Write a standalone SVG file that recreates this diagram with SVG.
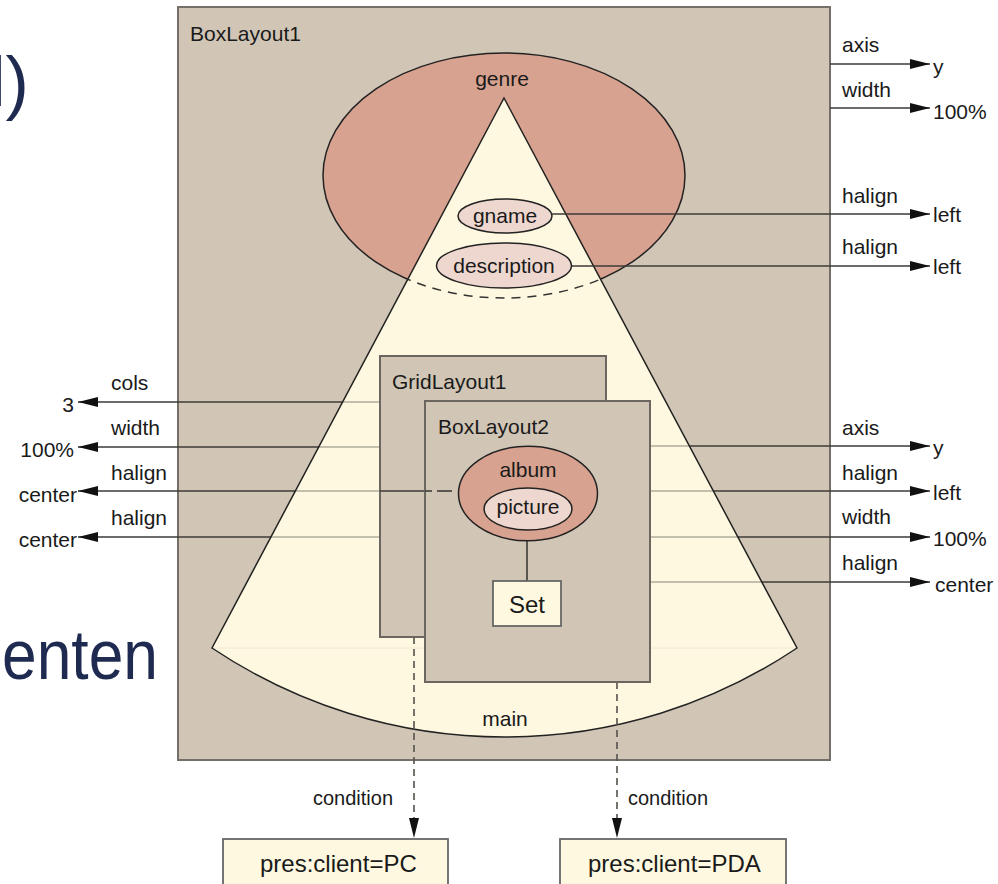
<svg xmlns="http://www.w3.org/2000/svg" width="998" height="884" viewBox="0 0 998 884">
  <defs>
    <style>
      text { font-family: "Liberation Sans", Arial, sans-serif; font-size: 21px; fill: #1a1a1a; }
      .mid { text-anchor: middle; }
      .end { text-anchor: end; }
      .slide { font-size: 70px; fill: #1f2a50; }
      .box { fill: #d1c6b6; stroke: #6b6660; stroke-width: 2; }
      .frame { fill: #d1c6b6; stroke: #747069; stroke-width: 2; }
      .salmon { fill: #d7a28f; stroke: #222; stroke-width: 1.5; }
      .pink { fill: #eed7cf; stroke: #222; stroke-width: 1.5; }
      .cream { fill: #fdf8df; stroke: #666; stroke-width: 1.8; }
      .link { fill: none; stroke: #3c3a37; stroke-width: 1.6; }
      .arrow { fill: none; stroke: #3c3a37; stroke-width: 1.6; marker-end: url(#tip); }
      .dash { fill: none; stroke: #55524d; stroke-width: 1.6; stroke-dasharray: 7 5; }
    </style>
    <marker id="tip" markerUnits="userSpaceOnUse" markerWidth="20" markerHeight="10" refX="20" refY="5" orient="auto">
      <path d="M0,0 L20,5 L0,10 Z" fill="#111"/>
    </marker>
    <clipPath id="coneClip">
      <path d="M504,98 L797,648 A525,525 0 0 1 212,648 Z"/>
    </clipPath>
  </defs>

  <!-- slide text fragments at the left edge -->
  <text class="slide" x="-10" y="106">l)</text>
  <text class="slide" x="2" y="679" textLength="156" lengthAdjust="spacingAndGlyphs">enten</text>

  <!-- outer layout -->
  <g id="boxlayout1">
    <rect class="frame" x="178" y="7" width="652" height="753"/>
    <text x="190" y="41">BoxLayout1</text>
  </g>

  <g id="genre">
    <ellipse class="salmon" cx="504" cy="175.5" rx="181" ry="122.5"/>
  </g>

  <!-- main cone -->
  <g id="main">
    <path d="M504,98 L797,648 A525,525 0 0 1 212,648 Z" fill="#fdf8df"/>
  </g>

  <!-- connectors -->
  <g id="connectors">
    <!-- BoxLayout1 properties -->
    <line class="arrow" x1="830" y1="64" x2="930" y2="64"/>
    <line class="arrow" x1="830" y1="108" x2="930" y2="108"/>
    <!-- GridLayout1 properties -->
    <line class="arrow" x1="380" y1="402" x2="78" y2="402"/>
    <line class="arrow" x1="380" y1="447" x2="78" y2="447"/>
    <line class="arrow" x1="380" y1="491" x2="78" y2="491"/>
    <line class="arrow" x1="380" y1="537" x2="78" y2="537"/>
    <!-- BoxLayout2 properties -->
    <line class="arrow" x1="650" y1="446" x2="930" y2="446"/>
    <line class="arrow" x1="597" y1="491" x2="930" y2="491"/>
    <line class="arrow" x1="650" y1="537" x2="930" y2="537"/>
    <line class="arrow" x1="650" y1="582" x2="930" y2="582"/>
  </g>

  <!-- lines seen through the cone are softened -->
  <rect x="178" y="380" width="652" height="300" fill="#fdf8df" opacity="0.6" clip-path="url(#coneClip)"/>
  <line x1="213" y1="648" x2="796" y2="648" stroke="#f4e6d6" stroke-width="1"/>

  <!-- cone outline and the genre boundary inside it -->
  <path d="M504,98 L797,648 A525,525 0 0 1 212,648 Z" fill="none" stroke="#222" stroke-width="1.5"/>
  <ellipse cx="504" cy="175.5" rx="181" ry="122.5" fill="none" stroke="#333" stroke-width="1.5" stroke-dasharray="9 7" clip-path="url(#coneClip)"/>
  <text class="mid" x="502" y="86">genre</text>
  <text class="mid" x="505" y="726">main</text>

  <!-- genre fields -->
  <line class="arrow" x1="552" y1="214" x2="930" y2="214"/>
  <line class="arrow" x1="571" y1="266" x2="930" y2="266"/>
  <g id="gname">
    <ellipse class="pink" cx="505" cy="216" rx="47" ry="17"/>
    <text class="mid" x="505" y="223">gname</text>
  </g>
  <g id="description">
    <ellipse class="pink" cx="504" cy="265.5" rx="67.5" ry="22.5"/>
    <text class="mid" x="504" y="273">description</text>
  </g>

  <!-- condition links -->
  <line class="dash" x1="414" y1="637" x2="414" y2="820"/>
  <path d="M409,818 L414,838 L419,818 Z" fill="#111"/>
  <line class="dash" x1="617" y1="682" x2="617" y2="820"/>
  <path d="M612,818 L617,838 L622,818 Z" fill="#111"/>
  <text x="313" y="805" font-size="20" style="font-size:20px">condition</text>
  <text x="628" y="805" style="font-size:20px">condition</text>

  <g id="gridlayout1">
    <rect class="box" x="380" y="356" width="226" height="281"/>
    <text x="392" y="389">GridLayout1</text>
  </g>
  <line class="link" x1="380" y1="491" x2="432" y2="491"/>

  <g id="boxlayout2">
    <rect class="box" x="425" y="401" width="225" height="281"/>
    <text x="438" y="434">BoxLayout2</text>
  </g>
  <line class="link" x1="425" y1="491" x2="432" y2="491"/>
  <line class="link" x1="437" y1="491" x2="452" y2="491"/>

  <line class="link" x1="527" y1="540" x2="527" y2="581"/>
  <g id="album">
    <ellipse class="salmon" cx="528" cy="493.5" rx="69.5" ry="47.3"/>
    <text class="mid" x="528" y="477">album</text>
  </g>
  <g id="picture">
    <ellipse class="pink" cx="528" cy="509" rx="44" ry="21"/>
    <text class="mid" x="528" y="514">picture</text>
  </g>
  <g id="set">
    <rect class="cream" x="493" y="581" width="68" height="45"/>
    <text class="mid" x="527" y="613" style="font-size:24px">Set</text>
  </g>

  <!-- property values -->
  <g id="labels">
    <text x="842" y="52">axis</text>
    <text x="933" y="74">y</text>
    <text x="842" y="97">width</text>
    <text x="933" y="119">100%</text>
    <text x="842" y="203">halign</text>
    <text x="933" y="222">left</text>
    <text x="842" y="254">halign</text>
    <text x="933" y="274">left</text>

    <text x="842" y="435">axis</text>
    <text x="933" y="455">y</text>
    <text x="842" y="480">halign</text>
    <text x="933" y="500">left</text>
    <text x="842" y="524">width</text>
    <text x="933" y="546">100%</text>
    <text x="842" y="570">halign</text>
    <text x="935" y="592">center</text>

    <text x="111" y="390">cols</text>
    <text class="end" x="74" y="412">3</text>
    <text x="111" y="435">width</text>
    <text class="end" x="74" y="457">100%</text>
    <text x="111" y="480">halign</text>
    <text class="end" x="77" y="502">center</text>
    <text x="111" y="525">halign</text>
    <text class="end" x="77" y="547">center</text>
  </g>

  <g id="pc">
    <rect class="cream" x="223" y="839" width="225" height="60"/>
    <text x="260" y="872" style="font-size:24px">pres:client=PC</text>
  </g>
  <g id="pda">
    <rect class="cream" x="560" y="839" width="226" height="60"/>
    <text x="588" y="872" style="font-size:24px">pres:client=PDA</text>
  </g>
</svg>
